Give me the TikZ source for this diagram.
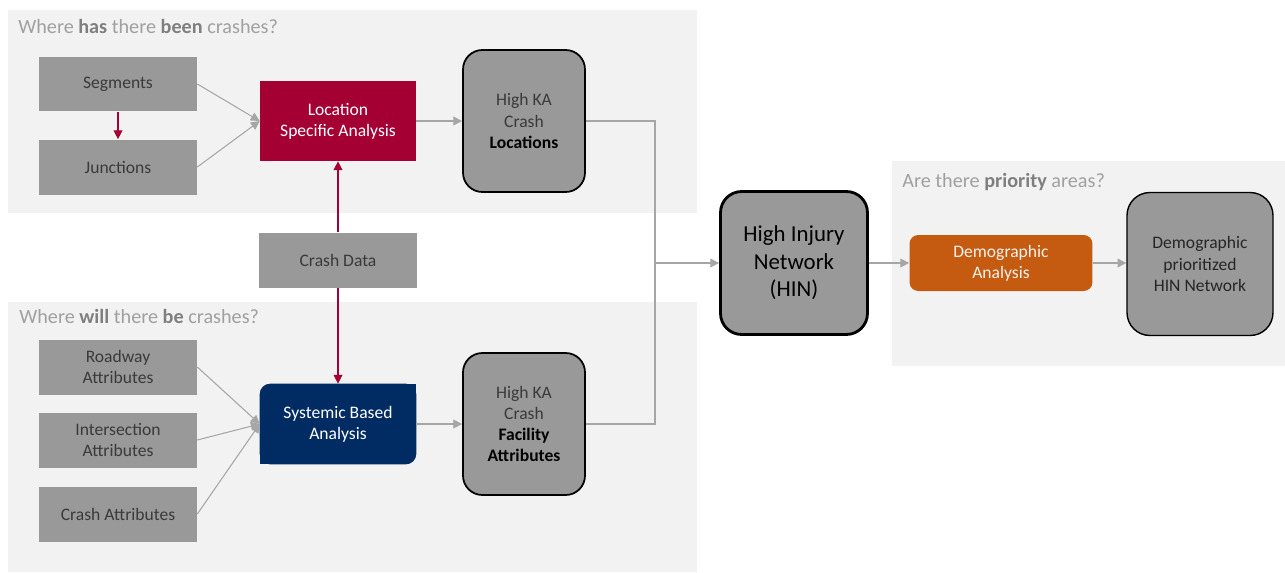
\documentclass[tikz,border=0pt]{standalone}
\usepackage{fontspec}
\setmainfont{Carlito}
\usepackage{xcolor}
\usepackage{tikz}
\usetikzlibrary{arrows.meta, positioning, backgrounds}
\definecolor{boxgray}{HTML}{999999}
\definecolor{panelgray}{HTML}{F2F2F2}
\definecolor{crimson}{HTML}{A50034}
\definecolor{navy}{HTML}{002C63}
\definecolor{rust}{HTML}{C55A11}
\definecolor{titlegray}{HTML}{A0A0A0}
\definecolor{titlebold}{HTML}{7F7F7F}
\definecolor{linegray}{HTML}{A6A6A6}
\definecolor{textdark}{HTML}{3A3A3A}
\newcommand{\keyword}[1]{{\bfseries\color{titlebold}#1}}
\tikzstyle{srcbox} = [rectangle, fill=boxgray, text=textdark, minimum width=3.16cm, minimum height=1.1cm, align=center, inner sep=0pt, font=\fontsize{10}{12}\selectfont]
\tikzstyle{method} = [rectangle, text=white, minimum width=3.12cm, minimum height=1.6cm, align=center, inner sep=0pt, font=\fontsize{10}{12}\selectfont]
\tikzstyle{result} = [rectangle, rounded corners=11pt, draw=black, line width=1pt, fill=boxgray, text=textdark, minimum width=2.44cm, minimum height=2.84cm, align=center, inner sep=0pt, font=\fontsize{10}{12}\selectfont]
\tikzstyle{arrow} = [draw=linegray, line width=0.6pt, -{Triangle[length=5pt,width=5pt]}]
\tikzstyle{redarrow} = [draw=crimson, line width=0.7pt, -{Triangle[length=5pt,width=5pt]}]
\tikzstyle{line} = [draw=linegray, line width=0.6pt]
\tikzstyle{panel} = [fill=panelgray]
\tikzstyle{paneltitle} = [anchor=base west, inner sep=0pt, text=titlegray, font=\fontsize{11.5}{14}\selectfont]

\begin{document}
\begin{tikzpicture}[x=0.02cm, y=-0.02cm]
\useasboundingbox (0,0) rectangle (1285,572);

% panel titles
\node (t1) [paneltitle] at (18,33) {Where \keyword{has} there \keyword{been} crashes?};
\node (t2) [paneltitle] at (19,323) {Where \keyword{will} there \keyword{be} crashes?};
\node (t3) [paneltitle] at (902,187) {Are there \keyword{priority} areas?};

% location branch
\node (seg) [srcbox] at (118,84) {Segments};
\node (junc) [srcbox] at (118,167) {Junctions};
\node (loc) [method, fill=crimson] at (338,121) {Location\\Specific Analysis};
\node (hka1) [result] at (524,121) {High KA\\Crash\\\textbf{\color{black}Locations}};
\node (crash) [srcbox] at (338,260) {Crash Data};

% systemic branch
\node (road) [srcbox] at (118,367) {Roadway\\Attributes};
\node (inter) [srcbox] at (118,440) {Intersection\\Attributes};
\node (cattr) [srcbox] at (118,514) {Crash Attributes};
\node (sys) [method] at (338,424) {Systemic Based\\Analysis};
\node (hka2) [result] at (524,424) {High KA\\Crash\\\textbf{\color{black}Facility}\\\textbf{\color{black}Attributes}};

% network
\node (hin) [result, line width=1.6pt, minimum width=2.94cm, minimum height=2.86cm, rounded corners=12pt, text=black, font=\fontsize{13}{15.6}\selectfont] at (794,263) {High Injury\\Network\\(HIN)};
\node (demoa) [method, fill=rust, rounded corners=5pt, minimum width=3.66cm, minimum height=1.12cm, text=white!92!rust] at (1001,263) {Demographic\\Analysis};
\node (demop) [result, line width=0.8pt, minimum width=2.92cm, minimum height=2.86cm, rounded corners=13pt, text=black!85] at (1200,264) {Demographic\\prioritized\\HIN Network};
\coordinate (join) at (655,263);

\draw [arrow] (seg.east) -- (loc.west);
\draw [arrow] (junc.east) -- (loc.west);
\draw [redarrow] (seg) -- (junc);
\draw [redarrow] (crash) -- (loc);
\draw [redarrow] (crash) -- (sys);
\draw [arrow] (loc) -- (hka1);
\draw [arrow] (road.east) -- (sys.west);
\draw [arrow] (inter.east) -- (sys.west);
\draw [arrow] (cattr.east) -- (sys.west);
\draw [arrow] (sys) -- (hka2);
\draw [line] (hka1.east) -| (join);
\draw [line] (hka2.east) -| (join);
\draw [arrow] (join) -- (hin.west);
\draw [arrow] (hin) -- (demoa);
\draw [arrow] (demoa) -- (demop.west |- demoa.east);

\begin{pgfonlayer}{background}
\fill [panel] (8,10) rectangle (697,213);
\fill [panel] (8,302) rectangle (697,572);
\fill [panel] (892,161) rectangle (1285,366);
\fill [navy, rounded corners=6pt] (sys.south west) rectangle (sys.north east);
\fill [navy] (sys.north) rectangle (sys.east);
\fill [navy] (sys.south) rectangle (sys.west);
\end{pgfonlayer}
\end{tikzpicture}
\end{document}
